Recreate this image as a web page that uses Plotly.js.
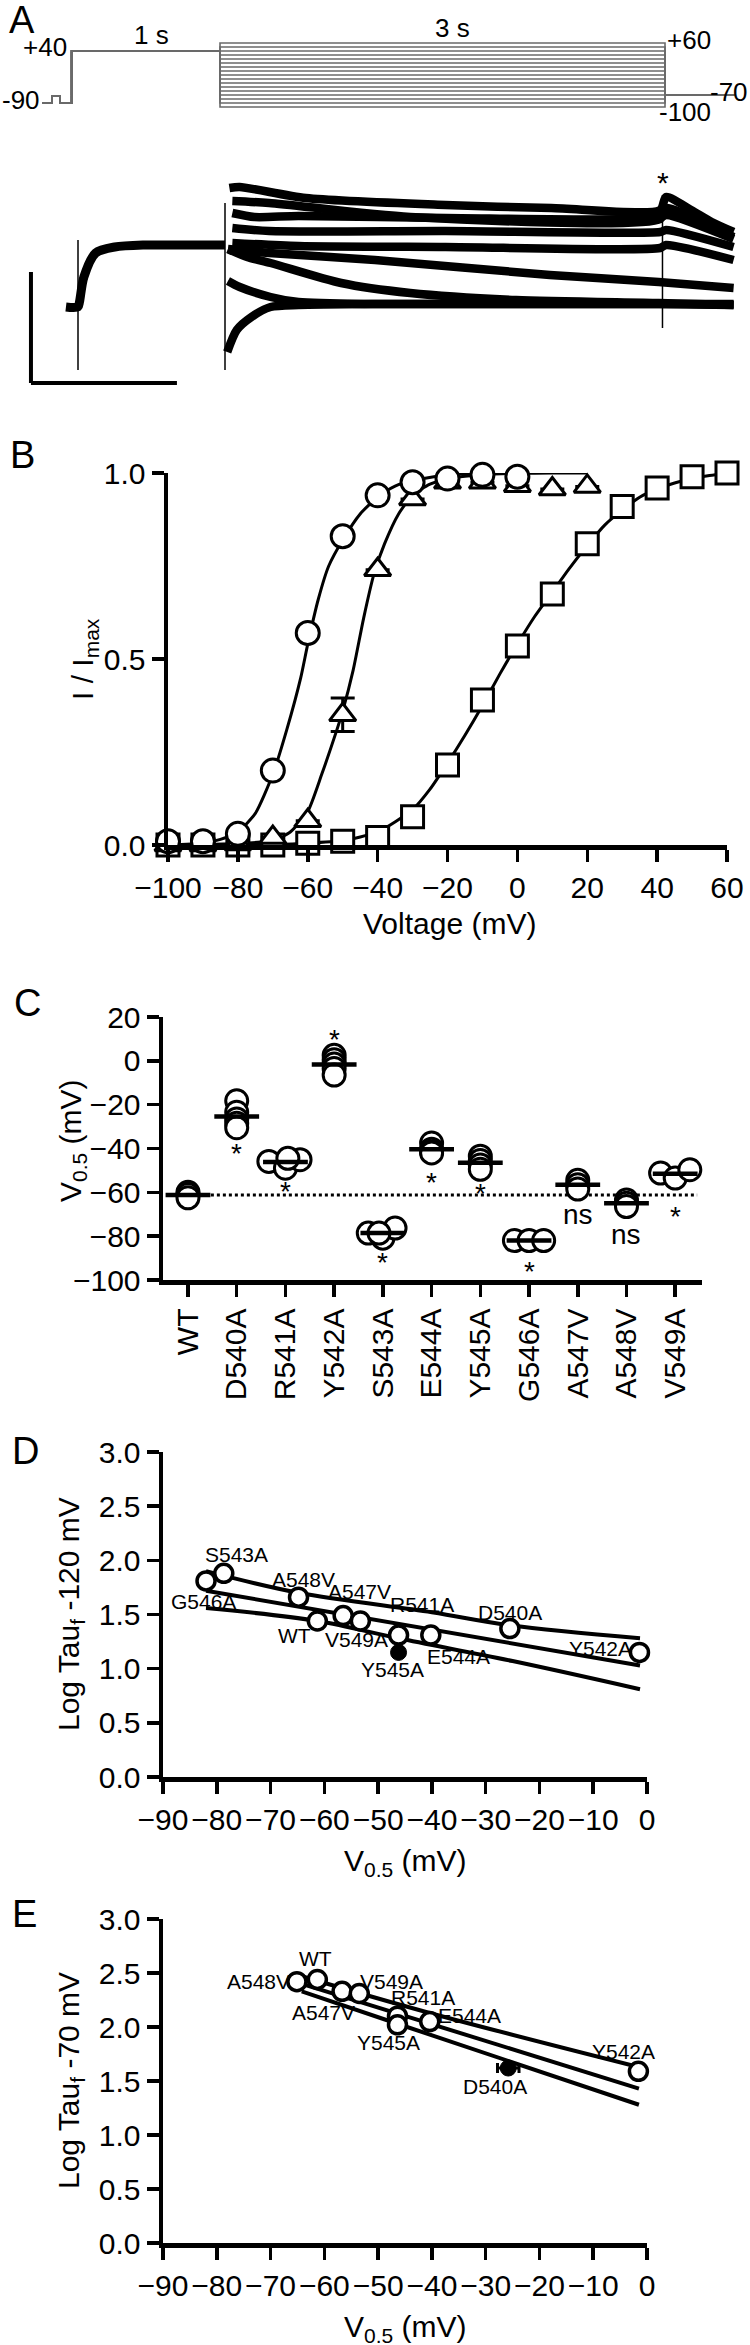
<!DOCTYPE html>
<html><head><meta charset="utf-8">
<script src="https://cdn.plot.ly/plotly-3.0.1.min.js"></script>
<style>html,body{margin:0;padding:0;background:#fff}</style>
</head><body>
<div id="chart" style="width:750px;height:2345px"></div>
<script>
// ================= DATA =================
// ---- Panel A: voltage protocol (time s, mV)
const protoPreT = [-1.2, -1.133, -1.133, -1.079, -1.079, -1.0, -1.0, 0];
const protoPreV = [-90, -90, -72, -72, -90, -90, 40, 40];
const stepVolts = [60, 50, 40, 30, 20, 10, 0, -10, -20, -30, -40, -50, -60, -70, -80, -90, -100];
const stepEndT = 3.0;
const tailEndT = 3.466;
const tailVolt = -70;

// ---- Panel A: current sweeps (time s, current a.u.)
const prePulseT = [-1.082, -1.0, -0.99, -0.96, -0.88, -0.75, -0.55, -0.3, 0];
const prePulseI = [0, 0, 0.5, 3.0, 5.4, 6.0, 6.2, 6.2, 6.2];
const sweepT = [
  [0.03, 0.1, 0.55, 1.5, 2.22, 2.96, 3.0, 3.17, 3.31, 3.46],
  [0.05, 0.3, 1.26, 2.96, 3.0, 3.2, 3.46],
  [0.05, 0.2, 0.5, 1.5, 2.96, 3.0, 3.46],
  [0.05, 0.3, 1.5, 2.96, 3.0, 3.46],
  [0.05, 0.5, 1.5, 2.96, 3.0, 3.46],
  [0.02, 0.3, 1.02, 2.21, 2.95, 3.46],
  [0.02, 0.15, 0.31, 0.79, 1.26, 1.98, 2.95, 3.46],
  [0.02, 0.1, 0.31, 0.5, 1.0, 2.95, 3.46],
  [0.015, 0.08, 0.18, 0.31, 0.5, 1.0, 3.46]
];
const sweepI = [
  [11.9, 12.0, 10.9, 10.2, 9.9, 9.7, 11.0, 9.7, 8.5, 7.5],
  [10.6, 10.4, 9.0, 8.8, 9.9, 8.8, 7.0],
  [9.4, 9.0, 9.1, 8.9, 8.9, 9.2, 6.8],
  [7.9, 7.6, 7.6, 7.5, 7.7, 6.0],
  [6.4, 6.1, 6.0, 5.9, 6.2, 4.7],
  [5.8, 5.4, 4.7, 3.2, 2.5, 1.9],
  [5.8, 5.0, 4.4, 2.4, 1.4, 0.7, 0.4, 0.2],
  [2.6, 2.0, 1.0, 0.5, 0.3, 0.3, 0.2],
  [-4.5, -2.3, -1.0, 0.0, 0.2, 0.3, 0.3]
];
const spikeT = [-1.0, 0, 2.976];
const spikeHi = [6.7, 10.4, 11.2];
const spikeLo = [-6.3, -6.3, -2.1];

// ---- Panel B: normalized current vs voltage
const circV = [-100, -90, -80, -70, -60, -50, -40, -30, -20, -10, 0];
const circI = [0.01, 0.01, 0.03, 0.20, 0.57, 0.83, 0.94, 0.975, 0.985, 0.995, 0.99];
const triV = [-100, -90, -80, -70, -60, -50, -40, -30, -20, -10, 0, 10, 20];
const triI = [0, 0, 0.003, 0.02, 0.065, 0.35, 0.74, 0.93, 0.975, 0.975, 0.966, 0.957, 0.964];
const triErr = [0, 0, 0, 0, 0, 0.045, 0, 0, 0, 0, 0, 0, 0];
const sqV = [-100, -90, -80, -70, -60, -50, -40, -30, -20, -10, 0, 10, 20, 30, 40, 50, 60];
const sqI = [0, 0, 0, 0, 0.005, 0.01, 0.02, 0.076, 0.215, 0.39, 0.535, 0.675, 0.81, 0.91, 0.96, 0.99, 1.0];
const circFitV = [-100, -90, -85, -80, -75, -70, -66, -62, -60, -57, -54, -50, -45, -40, -35, -30, -20, -10, 0];
const circFitI = [0.0, 0.005, 0.015, 0.035, 0.085, 0.19, 0.31, 0.45, 0.54, 0.66, 0.75, 0.82, 0.89, 0.935, 0.965, 0.98, 0.995, 0.999, 1.0];
const triFitV = [-100, -80, -70, -65, -60, -56, -52, -50, -47, -44, -41, -38, -34, -30, -25, -20, -10, 0, 10, 20];
const triFitI = [0, 0.004, 0.012, 0.035, 0.09, 0.19, 0.30, 0.36, 0.47, 0.61, 0.73, 0.81, 0.89, 0.94, 0.97, 0.985, 0.995, 0.999, 1.0, 1.0];
const sqFitV = [-100, -70, -60, -50, -40, -30, -25, -20, -15, -10, -5, 0, 5, 10, 15, 20, 25, 30, 35, 40, 45, 50, 55, 60];
const sqFitI = [0, 0.002, 0.005, 0.012, 0.035, 0.095, 0.15, 0.22, 0.295, 0.375, 0.46, 0.54, 0.615, 0.68, 0.745, 0.805, 0.86, 0.9, 0.935, 0.957, 0.973, 0.985, 0.993, 1.0];

// ---- Panel C: V0.5 per construct (individual cells)
const mutants = ['WT', 'D540A', 'R541A', 'Y542A', 'S543A', 'E544A', 'Y545A', 'G546A', 'A547V', 'A548V', 'V549A'];
const v05Cells = [
  [-60, -61, -62.5],
  [-18.2, -23.5, -26.5, -28.5, -30.5],
  [-45.9, -49.0, -45.1, -44.5],
  [2.5, 0.5, -1.5, -3.5, -6.5],
  [-78.6, -80.9, -76.3, -78.6],
  [-37.5, -40.3, -41.5, -42.0],
  [-43.5, -45.5, -47.5, -49.5],
  [-82, -82, -82],
  [-54.5, -56.5, -58.5],
  [-63.5, -65, -66.5],
  [-51.2, -53.5, -49.7]
];
const sigLabels = ['', '*', '*', '*', '*', '*', '*', '*', 'ns', 'ns', '*'];

// ---- Panel D: log tau_f at -120 mV vs V0.5
const dOpenNames = ['S543A', 'G546A', 'A548V', 'WT', 'A547V', 'V549A', 'R541A', 'E544A', 'D540A', 'Y542A'];
const dOpenV05 = [-78.7, -82.0, -64.8, -61.3, -56.5, -53.3, -46.2, -40.2, -25.5, -1.4];
const dOpenTau = [1.88, 1.81, 1.66, 1.44, 1.49, 1.44, 1.31, 1.31, 1.37, 1.15];
const dFilledNames = ['Y545A'];
const dFilledV05 = [-46.2];
const dFilledTau = [1.15];
const dFitV = [-82, -1.3];
const dFitTau = [1.72, 1.03];
const dUpperV = [-82, -64.8, -40, -25.5, -1.3];
const dUpperTau = [1.90, 1.70, 1.52, 1.40, 1.28];
const dLowerV = [-82, -61.3, -46.2, -25, -1.3];
const dLowerTau = [1.56, 1.44, 1.28, 1.07, 0.81];

// ---- Panel E: log tau_f at -70 mV vs V0.5
const eOpenNames = ['A548V', 'WT', 'A547V', 'V549A', 'R541A', 'Y545A', 'E544A', 'Y542A'];
const eOpenV05 = [-65.1, -61.3, -56.7, -53.5, -46.4, -46.4, -40.4, -1.6];
const eOpenTau = [2.42, 2.44, 2.33, 2.31, 2.10, 2.02, 2.05, 1.59];
const eFilledNames = ['D540A'];
const eFilledV05 = [-25.8];
const eFilledTau = [1.62];
const eFilledErr = [2.0];
const eFitV = [-64.2, -1.5];
const eFitTau = [2.40, 1.43];
const eUpperV = [-64.2, -40.4, -1.6];
const eUpperTau = [2.47, 2.13, 1.63];
const eLowerV = [-64.2, -46.4, -1.5];
const eLowerTau = [2.33, 2.03, 1.28];

// ================= LAYOUT HELPERS =================
const F = '"Liberation Sans", Arial, Helvetica, sans-serif';
const W = 750, H = 2345;
const X = p => p / W;
const Y = p => 1 - p / H;
const K = '#000';

function axis(dom, range, extra) {
  return Object.assign({
    domain: dom, range: range, showline: true, linewidth: 4.5, linecolor: K,
    ticks: 'outside', ticklen: 12, tickwidth: 3.5, tickcolor: K,
    showgrid: false, zeroline: false, fixedrange: true,
    tickfont: {family: F, size: 30, color: K}
  }, extra || {});
}
function hidden(dom, range) {
  return {domain: dom, range: range, visible: false, fixedrange: true};
}

const traces = [];
const annotations = [];
const shapes = [];

function ann(text, x, y, size, opts) {
  annotations.push(Object.assign({
    text: text, x: X(x), y: Y(y), xref: 'paper', yref: 'paper',
    showarrow: false, xanchor: 'center', yanchor: 'middle',
    font: {family: F, size: size, color: K}
  }, opts || {}));
}

// ================= PANEL A: protocol =================
stepVolts.forEach(v => {
  traces.push({
    x: protoPreT.concat([0, stepEndT, stepEndT, tailEndT]),
    y: protoPreV.concat([v, v, tailVolt, tailVolt]),
    xaxis: 'x5', yaxis: 'y5', mode: 'lines', hoverinfo: 'skip',
    line: {color: '#6a6a6a', width: 1.6}, showlegend: false
  });
});

// ================= PANEL A: currents =================
traces.push({x: prePulseT, y: prePulseI, xaxis: 'x6', yaxis: 'y6', mode: 'lines',
  line: {color: K, width: 9, shape: 'spline', smoothing: 0.8}, showlegend: false, hoverinfo: 'skip'});
sweepT.forEach((t, i) => {
  traces.push({x: t, y: sweepI[i], xaxis: 'x6', yaxis: 'y6', mode: 'lines',
    line: {color: K, width: 8.5, shape: 'spline', smoothing: 0.7}, showlegend: false, hoverinfo: 'skip'});
});
spikeT.forEach((t, i) => {
  traces.push({x: [t, t], y: [spikeLo[i], spikeHi[i]], xaxis: 'x6', yaxis: 'y6', mode: 'lines',
    line: {color: K, width: 1.5}, showlegend: false, hoverinfo: 'skip'});
});
// scale bar
shapes.push({type: 'line', xref: 'x6', yref: 'y6', x0: -1.32, x1: -1.32, y0: 3.5, y1: -7.6, line: {color: K, width: 4}});
shapes.push({type: 'line', xref: 'x6', yref: 'y6', x0: -1.32, x1: -0.327, y0: -7.6, y1: -7.6, line: {color: K, width: 4}});

ann('A', 7, 20, 38, {xanchor: 'left'});
ann('+40', 69, 47, 26, {xanchor: 'right'});
ann('-90', 0, 100, 26, {xanchor: 'left'});
ann('1 s', 151, 35, 26);
ann('3 s', 452, 28, 26);
ann('+60', 665, 40, 26, {xanchor: 'left'});
ann('-70', 750, 92, 26, {xanchor: 'right'});
ann('-100', 657, 112, 26, {xanchor: 'left'});
ann('*', 663, 182, 30);

// ================= PANEL B =================
const mk = (sym, size, lw) => ({symbol: sym, size: size, color: '#fff', line: {color: K, width: lw}});
[[circFitV, circFitI], [triFitV, triFitI], [sqFitV, sqFitI]].forEach(p => {
  traces.push({x: p[0], y: p[1], xaxis: 'x', yaxis: 'y', mode: 'lines',
    line: {color: K, width: 3, shape: 'spline', smoothing: 0.6}, showlegend: false, hoverinfo: 'skip'});
});
traces.push({x: sqV, y: sqI, xaxis: 'x', yaxis: 'y', mode: 'markers', marker: mk('square', 22, 3), cliponaxis: false, showlegend: false});
traces.push({x: triV, y: triI, xaxis: 'x', yaxis: 'y', mode: 'markers', marker: mk('triangle-up', 23, 3), cliponaxis: false, showlegend: false,
  error_y: {type: 'data', array: triErr, visible: true, color: K, thickness: 3, width: 12}});
traces.push({x: circV, y: circI, xaxis: 'x', yaxis: 'y', mode: 'markers', marker: mk('circle', 23, 3), cliponaxis: false, showlegend: false});

ann('B', 8, 455, 38, {xanchor: 'left'});
ann('I / I<sub>max</sub>', 84, 659, 30, {textangle: -90});
ann('Voltage (mV)', 449, 923, 30);

// ================= PANEL C =================
const cOffsets = [
  [0, 0, 0], [0, 0, 0, 0, 0], [-0.34, 0, 0.3, 0.05], [0, 0, 0, 0, 0], [-0.3, 0, 0.25, -0.08],
  [0, 0, 0, 0], [0, 0, 0, 0], [-0.3, 0, 0.3], [0, 0, 0], [0, 0, 0], [-0.3, 0, 0.3]
];
const cx = [], cy = [], mx = [], my = [];
v05Cells.forEach((vals, i) => {
  vals.forEach((v, j) => { cx.push(i + cOffsets[i][j]); cy.push(v); });
  mx.push(i); my.push(vals.reduce((a, b) => a + b, 0) / vals.length);
});
traces.push({x: cx, y: cy, xaxis: 'x2', yaxis: 'y2', mode: 'markers', marker: mk('circle', 22, 3), cliponaxis: false, showlegend: false});
traces.push({x: mx, y: my, xaxis: 'x2', yaxis: 'y2', mode: 'markers',
  marker: {symbol: 'line-ew', size: 32, color: K, line: {color: K, width: 4.5}}, cliponaxis: false, showlegend: false});
shapes.push({type: 'line', xref: 'x2', yref: 'y2', x0: 0.1, x1: 10.45, y0: my[0], y1: my[0], layer: 'below',
  line: {color: K, width: 3, dash: 'dot'}});
const sigY = [null, -39.8, -57.0, 12.4, -89.3, -53.2, -58.1, -93.8, -70.3, -79.4, -68.7];
sigLabels.forEach((s, i) => {
  if (!s) return;
  annotations.push({text: s, x: i, y: s === '*' ? sigY[i] - 2.5 : sigY[i], xref: 'x2', yref: 'y2', showarrow: false,
    xanchor: 'center', yanchor: 'middle', font: {family: F, size: 28, color: K}});
});
ann('C', 12, 1003, 38, {xanchor: 'left'});
ann('V<sub>0.5</sub> (mV)', 72, 1141, 30, {textangle: -90});

// ================= PANEL D =================
[[dUpperV, dUpperTau], [dFitV, dFitTau], [dLowerV, dLowerTau]].forEach(p => {
  traces.push({x: p[0], y: p[1], xaxis: 'x3', yaxis: 'y3', mode: 'lines',
    line: {color: K, width: 4, shape: 'spline', smoothing: 1}, showlegend: false, hoverinfo: 'skip'});
});
traces.push({x: dOpenV05, y: dOpenTau, text: dOpenNames, xaxis: 'x3', yaxis: 'y3', mode: 'markers',
  marker: {symbol: 'circle', size: 18, color: '#fff', line: {color: K, width: 3.5}}, cliponaxis: false, showlegend: false});
traces.push({x: dFilledV05, y: dFilledTau, text: dFilledNames, xaxis: 'x3', yaxis: 'y3', mode: 'markers',
  marker: {symbol: 'circle', size: 16, color: K, line: {color: K, width: 1}}, cliponaxis: false, showlegend: false});
const dLab = [['S543A', -76.4, 2.05], ['G546A', -82.4, 1.62], ['A548V', -63.8, 1.82], ['A547V', -53.4, 1.71],
  ['R541A', -41.8, 1.59], ['D540A', -25.5, 1.52], ['WT', -65.5, 1.31], ['V549A', -54.1, 1.27],
  ['Y545A', -47.4, 0.99], ['E544A', -35.0, 1.11], ['Y542A', -8.7, 1.19]];
dLab.forEach(l => annotations.push({text: l[0], x: l[1], y: l[2], xref: 'x3', yref: 'y3', showarrow: false,
  xanchor: 'center', yanchor: 'middle', font: {family: F, size: 21, color: K}}));
ann('D', 10, 1451, 38, {xanchor: 'left'});
ann('Log Tau<sub>f</sub> -120 mV', 70, 1614, 30, {textangle: -90});
ann('V<sub>0.5</sub> (mV)', 405, 1862, 30);

// ================= PANEL E =================
[[eUpperV, eUpperTau], [eFitV, eFitTau], [eLowerV, eLowerTau]].forEach(p => {
  traces.push({x: p[0], y: p[1], xaxis: 'x4', yaxis: 'y4', mode: 'lines',
    line: {color: K, width: 4, shape: 'spline', smoothing: 1}, showlegend: false, hoverinfo: 'skip'});
});
traces.push({x: eOpenV05, y: eOpenTau, text: eOpenNames, xaxis: 'x4', yaxis: 'y4', mode: 'markers',
  marker: {symbol: 'circle', size: 18, color: '#fff', line: {color: K, width: 3.5}}, cliponaxis: false, showlegend: false});
traces.push({x: eFilledV05, y: eFilledTau, text: eFilledNames, xaxis: 'x4', yaxis: 'y4', mode: 'markers',
  error_x: {type: 'data', array: eFilledErr, visible: true, color: K, thickness: 3, width: 5},
  marker: {symbol: 'circle', size: 16, color: K, line: {color: K, width: 1}}, cliponaxis: false, showlegend: false});
const eLab = [['WT', -61.7, 2.63], ['A548V', -72.3, 2.42], ['V549A', -47.6, 2.42], ['R541A', -41.6, 2.27],
  ['A547V', -60.2, 2.13], ['E544A', -33.0, 2.11], ['Y545A', -48.0, 1.86], ['Y542A', -4.3, 1.77], ['D540A', -28.3, 1.45]];
eLab.forEach(l => annotations.push({text: l[0], x: l[1], y: l[2], xref: 'x4', yref: 'y4', showarrow: false,
  xanchor: 'center', yanchor: 'middle', font: {family: F, size: 21, color: K}}));
ann('E', 10, 1914, 38, {xanchor: 'left'});
ann('Log Tau<sub>f</sub> -70 mV', 70, 2081, 30, {textangle: -90});
ann('V<sub>0.5</sub> (mV)', 405, 2328, 30);

// ================= AXES =================
const layout = {
  width: W, height: H, margin: {l: 0, r: 0, t: 0, b: 0},
  paper_bgcolor: '#fff', plot_bgcolor: 'rgba(0,0,0,0)', showlegend: false,
  font: {family: F, color: K},
  xaxis: axis([X(168), X(727)], [-100, 60], {anchor: 'y', tickvals: [-100, -80, -60, -40, -20, 0, 20, 40, 60]}),
  yaxis: axis([Y(845), Y(473)], [0, 1], {anchor: 'x', tickvals: [0, 0.5, 1], tickformat: '.1f'}),
  xaxis2: axis([X(163), X(702)], [-0.513, 10.55], {anchor: 'y2', tickvals: mutants.map((m, i) => i), ticktext: mutants, tickangle: -90}),
  yaxis2: axis([Y(1280), Y(1017)], [-100, 20], {anchor: 'x2', tickvals: [-100, -80, -60, -40, -20, 0, 20]}),
  xaxis3: axis([X(163), X(647)], [-90, 0], {anchor: 'y3', dtick: 10}),
  yaxis3: axis([Y(1777), Y(1452)], [0, 3], {anchor: 'x3', dtick: 0.5, tickformat: '.1f'}),
  xaxis4: axis([X(163), X(647)], [-90, 0], {anchor: 'y4', dtick: 10}),
  yaxis4: axis([Y(2243), Y(1919)], [0, 3], {anchor: 'x4', dtick: 0.5, tickformat: '.1f'}),
  xaxis5: Object.assign(hidden([0, 1], [-1.4832, 3.5730]), {anchor: 'y5'}),
  yaxis5: Object.assign(hidden([Y(117), Y(33)], [-125, 85]), {anchor: 'x5'}),
  xaxis6: Object.assign(hidden([0, 1], [-1.5306, 3.5714]), {anchor: 'y6'}),
  yaxis6: Object.assign(hidden([Y(400), Y(160)], [-9.3, 14.7]), {anchor: 'x6'}),
  annotations: annotations,
  shapes: shapes
};

Plotly.newPlot('chart', traces, layout, {staticPlot: true, displayModeBar: false});
</script>
</body></html>
